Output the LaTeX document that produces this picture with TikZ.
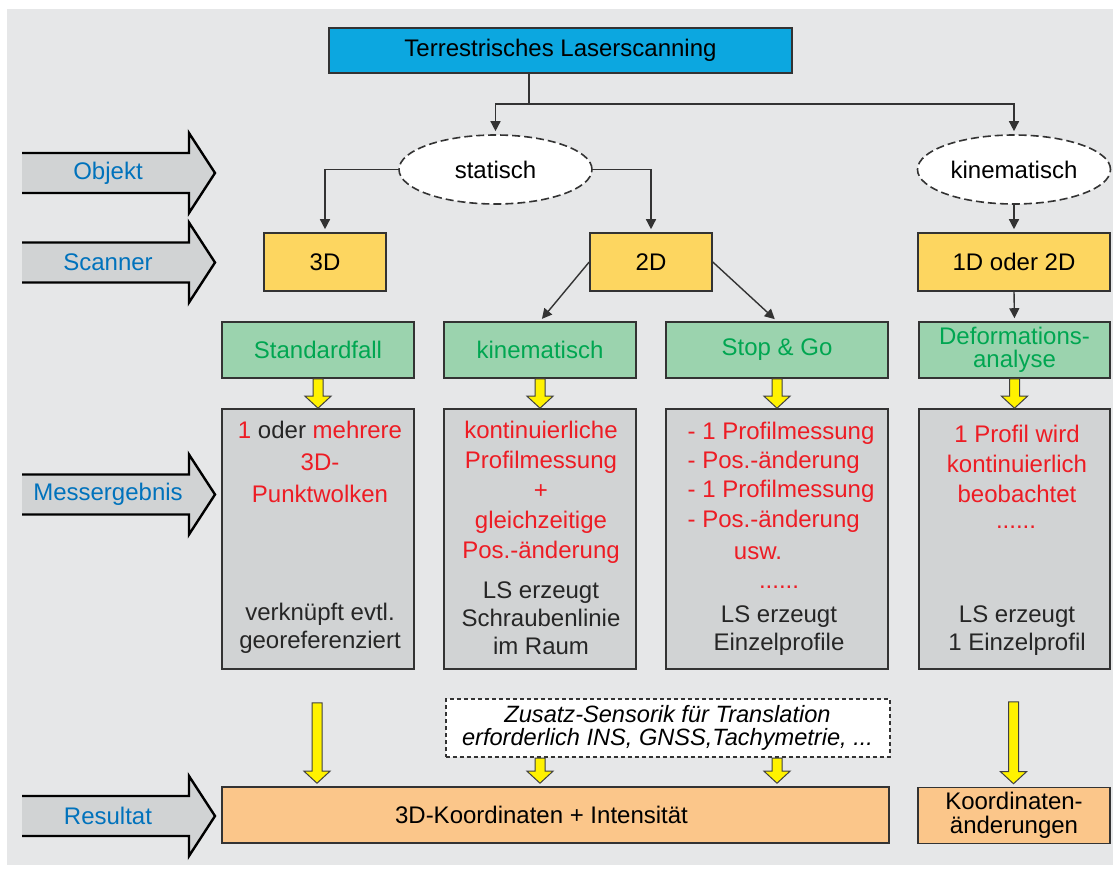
\documentclass[tikz,border=0pt]{standalone}
\usepackage{fontspec}
\setmainfont{Liberation Sans}
\usetikzlibrary{arrows.meta, shapes.geometric, calc}
\definecolor{tls}{RGB}{12,167,224}
\definecolor{scan}{RGB}{253,214,96}
\definecolor{mode}{RGB}{155,211,174}
\definecolor{modetext}{RGB}{0,166,81}
\definecolor{result}{RGB}{209,211,212}
\definecolor{output}{RGB}{251,198,138}
\definecolor{hint}{RGB}{237,28,36}
\definecolor{level}{RGB}{0,114,188}
\definecolor{panel}{RGB}{230,231,232}
\definecolor{flow}{RGB}{255,242,0}
\colorlet{frame}{black!80}

\newcommand{\blockarrow}[2]{%
  \path [flow arrow] let \p1=(#1), \p2=(#2) in
    (\x1-2.5pt,\y1) -- (\x1-2.5pt,\y2+6pt) -- (\x1-6.5pt,\y2+6pt) -- (\x1,\y2)
    -- (\x1+6.5pt,\y2+6pt) -- (\x1+2.5pt,\y2+6pt) -- (\x1+2.5pt,\y1) -- cycle;}

\begin{document}
\begin{tikzpicture} [
    x=0.5pt, y=-0.5pt, line width=0.7pt,
    >={Triangle[length=5pt,width=5pt]},
    every node/.append style={align=center, font=\fontsize{12}{14}\selectfont},
    base box/.style={draw=frame, line width=0.8pt, inner sep=0pt},
    tls box/.style={base box, fill=tls, minimum height=22.5pt},
    scan box/.style={base box, fill=scan, minimum height=29pt},
    mode box/.style={base box, fill=mode, text=modetext, minimum height=28pt},
    result box/.style={base box, fill=result, minimum height=130pt},
    output box/.style={base box, fill=output, minimum height=28pt},
    object ell/.style={ellipse, draw=frame, fill=white, line width=0.8pt,
      dash pattern=on 4pt off 2pt, minimum width=96.5pt, minimum height=34.5pt, inner sep=0pt},
    red text/.style={text=hint, inner sep=0pt},
    black text/.style={text=black!85, inner sep=0pt},
    link/.style={->, draw=frame, shorten >=1.5pt},
    flow arrow/.style={fill=flow, draw=black!75, line width=0.5pt},
    side arrow/.style={fill=result, draw=black, line width=1.2pt},
    side text/.style={text=level, inner sep=0pt}
  ]

  \useasboundingbox (0,0) rectangle (1113,868);
  \fill [panel] (7,9) rectangle (1113,865);

  % levels on the left
  \foreach \y/\name/\txt in {173/objekt/Objekt, 262.5/scanner/Scanner,
      494.5/messergebnis/Messergebnis, 816/resultat/Resultat} {
    \path [side arrow] (22,\y-20) -- (189,\y-20) -- (189,\y-40) -- (215,\y)
      -- (189,\y+40) -- (189,\y+20) -- (22,\y+20);
    \node [side text] (\name) at (108,\y) {\txt};
  }

  \node [tls box, minimum width=231.5pt] (tls) at (560.5,50.5) {Terrestrisches Laserscanning};

  \node [object ell] (statisch) at (495.5,169.5) {statisch};
  \node [object ell] (kinobj) at (1014,169.5) {kinematisch};

  \node [scan box, minimum width=61pt] (scan3d) at (325,262) {3D};
  \node [scan box, minimum width=61pt] (scan2d) at (651,262) {2D};
  \node [scan box, minimum width=96pt] (scan12d) at (1014,262) {1D oder 2D};

  \node [mode box, minimum width=96pt] (standard) at (318,350) {Standardfall};
  \node [mode box, minimum width=96pt] (kinmode) at (540,350) {kinematisch};
  \node [mode box, minimum width=111pt] (stopgo) at (777,350) {Stop \& Go};
  \node [mode box, minimum width=95.5pt, font=\fontsize{12}{11.5}\selectfont] (deform)
    at (1014.5,350) {Deformations-\\analyse};

  \node [result box, minimum width=96pt] (stdres) at (318,539) {};
  \node [result box, minimum width=96pt] (kinres) at (540,539) {};
  \node [result box, minimum width=111pt] (stopres) at (777,539) {};
  \node [result box, minimum width=95.5pt] (defres) at (1014.5,539) {};

  \node [red text, font=\fontsize{12}{16}\selectfont] (stdred) at (320,462)
    {1 \textcolor{black!85}{oder} mehrere\\3D-\\Punktwolken};
  \node [black text] (stdblack) at (320,628) {verknüpft evtl.\\georeferenziert};
  \node [red text, font=\fontsize{12}{15}\selectfont] (kinred) at (541,492)
    {kontinuierliche\\Profilmessung\\+\\gleichzeitige\\Pos.-änderung};
  \node [black text] (kinblack) at (541,618) {LS erzeugt\\Schraubenlinie\\im Raum};
  \node [red text, align=left, anchor=west, font=\fontsize{12}{14.6}\selectfont] (stopred)
    at (687,477) {- 1 Profilmessung\\- Pos.-änderung\\- 1 Profilmessung\\- Pos.-änderung};
  \node [red text] (stopusw) at (758,553) {usw.};
  \node [red text] (stopdots) at (779,587) {......};
  \node [black text] (stopblack) at (779,631) {LS erzeugt\\Einzelprofile};
  \node [red text, font=\fontsize{12}{15}\selectfont] (defred) at (1017,464)
    {1 Profil wird\\kontinuierlich\\beobachtet};
  \node [red text] (defdots) at (1016,527) {......};
  \node [black text] (defblack) at (1017,631) {LS erzeugt\\1 Einzelprofil};

  \node [base box, fill=white, line width=1pt, dash pattern=on 2pt off 1.5pt, minimum width=222pt,
    minimum height=29pt, font=\fontsize{11.8}{11.8}\selectfont\itshape] (zusatz)
    at (667.5,728) {Zusatz-Sensorik für Translation\\erforderlich INS, GNSS,Tachymetrie, ...};
  \node [output box, minimum width=333.5pt] (koord) at (555.5,815)
    {3D-Koordinaten + Intensität\hspace*{14pt}};
  \node [output box, minimum width=96pt, font=\fontsize{12}{12}\selectfont] (kdiff)
    at (1014,815.5) {Koordinaten-\\änderungen};

  % tree connectors
  \coordinate (split) at (529,104);
  \draw [draw=frame] (tls.south -| split) -- (split);
  \draw [link] (split) -| (statisch.north);
  \draw [link] (split) -| (kinobj.north);
  \draw [link] (statisch.west) -| (scan3d.north);
  \draw [link] (statisch.east) -| (scan2d.north);
  \draw [link] (kinobj.south) -- (scan12d.north);
  \draw [link] (scan2d.west) -- (kinmode.north);
  \draw [link] (scan2d.east) -- (stopgo.north);
  \draw [link] (scan12d.south) -- (deform.north);

  % yellow block arrows
  \blockarrow{standard.south}{stdres.north}
  \blockarrow{kinmode.south}{kinres.north}
  \blockarrow{stopgo.south}{stopres.north}
  \blockarrow{deform.south}{defres.north}
  \blockarrow{$(stdres.south)+(-1,33)$}{$(koord.north)+(0,-3)$}
  \blockarrow{kinres.south |- zusatz.south}{$(koord.north)+(0,-3)$}
  \blockarrow{stopres.south |- zusatz.south}{$(koord.north)+(0,-3)$}
  \blockarrow{$(defres.south)+(-1,32)$}{$(kdiff.north)+(0,-3)$}
\end{tikzpicture}
\end{document}
